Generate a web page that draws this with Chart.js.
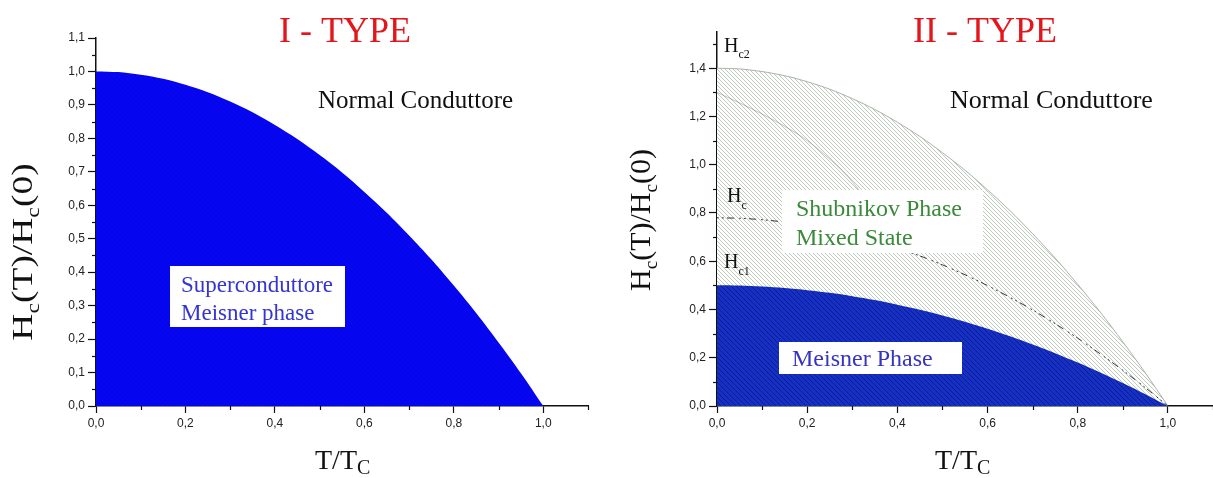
<!DOCTYPE html>
<html>
<head>
<meta charset="utf-8">
<script src="https://cdn.jsdelivr.net/npm/chart.js@4.4.0/dist/chart.umd.min.js"></script>
<style>
    html, body { margin: 0; padding: 0; background: #fff; }
    #wrap { position: relative; width: 1213px; height: 478px; }
    .box { position: absolute; top: 0; }
</style>
</head>
<body>
<div id="wrap">
    <div class="box" style="left:0"><canvas id="type1" width="600" height="478"></canvas></div>
    <div class="box" style="left:600px"><canvas id="type2" width="613" height="478"></canvas></div>
</div>
<script>
// T/Tc sample points
var tRatio   = [0, 0.05, 0.1, 0.15, 0.2, 0.25, 0.3, 0.35, 0.4, 0.45, 0.5, 0.55, 0.6, 0.65, 0.7, 0.75, 0.8, 0.85, 0.9, 0.95, 1.0];
// type I critical field
var hcType1  = [1.000, 0.998, 0.990, 0.978, 0.960, 0.938, 0.910, 0.878, 0.840, 0.798, 0.750, 0.698, 0.640, 0.578, 0.510, 0.438, 0.360, 0.278, 0.190, 0.098, 0.000];
// type II fields
var hc2      = [1.400, 1.397, 1.386, 1.369, 1.344, 1.313, 1.274, 1.229, 1.176, 1.117, 1.050, 0.977, 0.896, 0.809, 0.714, 0.613, 0.504, 0.389, 0.266, 0.137, 0.000];
var hcThermo = [0.780, 0.778, 0.772, 0.762, 0.749, 0.731, 0.710, 0.684, 0.655, 0.622, 0.585, 0.544, 0.499, 0.450, 0.398, 0.341, 0.281, 0.216, 0.148, 0.076, 0.000];
var hc1      = [0.500, 0.499, 0.495, 0.489, 0.480, 0.469, 0.455, 0.439, 0.420, 0.399, 0.375, 0.349, 0.320, 0.289, 0.255, 0.219, 0.180, 0.139, 0.095, 0.049, 0.000];
// faint guide line inside the mixed state
var guideT   = [0, 0.1, 0.2, 0.3, 0.38];
var guideH   = [1.30, 1.21, 1.10, 0.93, 0.70];

// minor tick values
var xMinor  = [0.1, 0.3, 0.5, 0.7, 0.9, 1.1];
var yMinor1 = [0.05, 0.15, 0.25, 0.35, 0.45, 0.55, 0.65, 0.75, 0.85, 0.95, 1.05];
var yMinor2 = [0.1, 0.3, 0.5, 0.7, 0.9, 1.1, 1.3, 1.5];

function pts(xs, ys) {
    return xs.map(function (x, i) { return {x: x, y: ys[i]}; });
}

function hatch(base, line, size, width) {
    var c = document.createElement('canvas');
    c.width = c.height = size;
    var g = c.getContext('2d');
    g.fillStyle = base;
    g.fillRect(0, 0, size, size);
    g.strokeStyle = line;
    g.lineWidth = width;
    g.beginPath();
    for (var k = -1; k <= 1; k++) {
        g.moveTo(0, k * size);
        g.lineTo(size, k * size + size);
    }
    g.stroke();
    return g.createPattern(c, 'repeat');
}

function comma(v) {
    return v.toFixed(1).replace('.', ',');
}

// minor tick marks, placed with the chart's own scales
var minorTicks = {
    id: 'minorTicks',
    afterDraw: function (chart, args, opts) {
        var ctx = chart.ctx;
        ctx.save();
        ctx.strokeStyle = '#111';
        ctx.lineWidth = 1.2;
        var sx = chart.scales.x, sy = chart.scales.y;
        (opts.x || []).forEach(function (v) {
            var px = Math.round(sx.getPixelForValue(v)) + 0.5;
            ctx.beginPath();
            ctx.moveTo(px, sx.top);
            ctx.lineTo(px, sx.top + 4);
            ctx.stroke();
        });
        (opts.y || []).forEach(function (v) {
            var py = Math.round(sy.getPixelForValue(v)) + 0.5;
            ctx.beginPath();
            ctx.moveTo(sy.right - 4, py);
            ctx.lineTo(sy.right, py);
            ctx.stroke();
        });
        ctx.restore();
    }
};

// labels, boxes and titles with subscripts
var textMarks = {
    id: 'textMarks',
    afterDatasetsDraw: function (chart, args, opts) {
        var ctx = chart.ctx;
        (opts.items || []).forEach(function (it) {
            ctx.save();
            if (it.box) {
                ctx.fillStyle = '#fff';
                ctx.fillRect(it.box[0], it.box[1], it.box[2], it.box[3]);
            }
            ctx.translate(it.x, it.y);
            if (it.rotate) ctx.rotate(it.rotate);
            if (it.stretch) ctx.scale(it.stretch, 1);
            ctx.fillStyle = it.color || '#111';
            ctx.textBaseline = 'alphabetic';
            var parts = it.parts || [[it.text, 0]];
            var size = it.size, sub = it.subSize || Math.round(size * 0.62);
            var total = 0;
            parts.forEach(function (p) {
                ctx.font = (p[1] ? sub : size) + 'px "Liberation Serif"';
                total += ctx.measureText(p[0]).width;
            });
            var x = it.align === 'center' ? -total / 2 : 0;
            parts.forEach(function (p) {
                ctx.font = (p[1] ? sub : size) + 'px "Liberation Serif"';
                ctx.fillText(p[0], x, p[1] ? (it.subDrop || 6) : 0);
                x += ctx.measureText(p[0]).width;
            });
            ctx.restore();
        });
    }
};

var yTitle = [['H', 0], ['c', 1], ['(T)/H', 0], ['c', 1], ['(0)', 0]];
var xTitle = [['T/T', 0], ['C', 1]];

function axes(yMax, yStep, yWidth) {
    var tickFont = {family: '"Liberation Sans", Arial, sans-serif', size: 12};
    return {
        x: {
            type: 'linear', min: 0, max: 1.1,
            grid: {drawOnChartArea: false, tickLength: 7, tickColor: '#111', tickWidth: 1.2},
            border: {display: true, color: '#111', width: 1.5},
            ticks: {stepSize: 0.2, includeBounds: false, autoSkip: false, maxRotation: 0,
                    color: '#222', font: tickFont, padding: 3,
                    callback: function (v) { return comma(v); }},
            afterFit: function (s) { s.height = 72; }
        },
        y: {
            type: 'linear', min: 0, max: yMax,
            grid: {drawOnChartArea: false, tickLength: 8, tickColor: '#111', tickWidth: 1.2},
            border: {display: true, color: '#111', width: 1.5},
            ticks: {stepSize: yStep, includeBounds: false, autoSkip: false,
                    color: '#222', font: tickFont, padding: 3,
                    callback: function (v) { return comma(v); }},
            afterFit: function (s) { s.width = yWidth; }
        }
    };
}

Chart.defaults.animation = false;

new Chart(document.getElementById('type1'), {
    type: 'line',
    data: {
        datasets: [{
            data: pts(tRatio, hcType1),
            fill: 'origin',
            backgroundColor: hatch('#0606f4', 'rgba(0,0,150,0.25)', 5, 1),
            borderWidth: 0,
            pointRadius: 0,
            tension: 0.3
        }]
    },
    options: {
        responsive: false,
        layout: {padding: {top: 38, right: 12, left: 0, bottom: 0}},
        scales: axes(1.1, 0.1, 96),
        plugins: {
            legend: {display: false},
            tooltip: {enabled: false},
            minorTicks: {x: xMinor, y: yMinor1},
            textMarks: {items: [
                {text: 'I - TYPE', x: 345, y: 42, size: 36, color: '#e3161b', align: 'center'},
                {text: 'Normal Conduttore', x: 318, y: 108, size: 25, color: '#111'},
                {text: 'Superconduttore', x: 181, y: 292, size: 23, color: '#3434d2', box: [170, 266, 175, 61]},
                {text: 'Meisner phase', x: 181, y: 320, size: 23, color: '#3434d2'},
                {parts: yTitle, x: 32, y: 252, size: 30, subDrop: 7, align: 'center', stretch: 1.25, rotate: -Math.PI / 2, color: '#111'},
                {parts: xTitle, x: 315, y: 469, size: 28, subSize: 20, subDrop: 5, color: '#111'}
            ]}
        }
    },
    plugins: [minorTicks, textMarks]
});

new Chart(document.getElementById('type2'), {
    type: 'line',
    data: {
        datasets: [{
            // Meissner phase, drawn on top
            data: pts(tRatio, hc1),
            fill: 'origin',
            backgroundColor: hatch('#1630c6', 'rgba(5,15,100,0.55)', 5, 1),
            borderWidth: 0,
            pointRadius: 0,
            tension: 0.3
        }, {
            // thermodynamic field Hc, dash-dot
            data: pts(tRatio, hcThermo),
            fill: false,
            borderColor: '#333',
            borderWidth: 1,
            borderDash: [2, 3, 2, 3, 7, 5],
            pointRadius: 0,
            tension: 0.3
        }, {
            data: pts(guideT, guideH),
            fill: false,
            borderColor: 'rgba(90,105,90,0.4)',
            borderWidth: 1,
            pointRadius: 0,
            tension: 0.3
        }, {
            // mixed state up to Hc2
            data: pts(tRatio, hc2),
            fill: 'origin',
            backgroundColor: hatch('#ffffff', 'rgba(135,160,135,0.55)', 4, 1),
            borderColor: '#aab0aa',
            borderWidth: 1,
            pointRadius: 0,
            tension: 0.3
        }]
    },
    options: {
        responsive: false,
        layout: {padding: {top: 32, right: 0, left: 0, bottom: 0}},
        scales: axes(1.55, 0.2, 117),
        plugins: {
            legend: {display: false},
            tooltip: {enabled: false},
            minorTicks: {x: xMinor, y: yMinor2},
            textMarks: {items: [
                {text: 'II - TYPE', x: 385, y: 42, size: 36, color: '#e3161b', align: 'center'},
                {text: 'Normal Conduttore', x: 350, y: 108, size: 26, color: '#111'},
                {text: 'Shubnikov Phase', x: 196, y: 216, size: 24, color: '#3a8a3a', box: [182, 190, 201, 63]},
                {text: 'Mixed State', x: 196, y: 245, size: 24, color: '#3a8a3a'},
                {text: 'Meisner Phase', x: 192, y: 366, size: 24, color: '#3535c2', box: [179, 342, 183, 32]},
                {parts: [['H', 0], ['c2', 1]], x: 124, y: 52, size: 20, subSize: 12, subDrop: 6, color: '#111'},
                {parts: [['H', 0], ['c', 1]], x: 127, y: 202, size: 20, subSize: 12, subDrop: 7, color: '#111'},
                {parts: [['H', 0], ['c1', 1]], x: 124, y: 268, size: 20, subSize: 12, subDrop: 7, color: '#111'},
                {parts: yTitle, x: 50, y: 220, size: 30, subDrop: 7, align: 'center', rotate: -Math.PI / 2, color: '#111'},
                {parts: xTitle, x: 335, y: 469, size: 28, subSize: 20, subDrop: 5, color: '#111'}
            ]}
        }
    },
    plugins: [minorTicks, textMarks]
});
</script>
</body>
</html>
